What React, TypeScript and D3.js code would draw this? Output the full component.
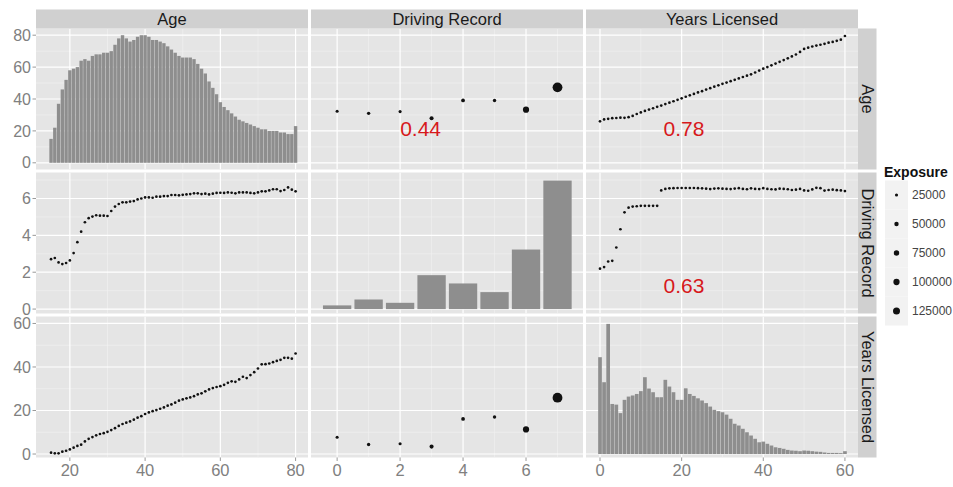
import React from 'react';
import * as d3 from 'd3';

// variable names (strip labels)
const vars = ['Age', 'Driving Record', 'Years Licensed'];

// x categories of each column
const ages = d3.range(15, 81);
const records = [0, 1, 2, 3, 4, 5, 6, 7];
const years = d3.range(0, 61);

// Age column
const ageCounts = [15, 22, 37, 46, 52, 58, 59, 60, 64, 65, 64, 67, 68, 68, 69, 69, 70, 74, 78, 80, 78, 76, 77, 79, 80, 80,
  79, 77, 77, 76, 75, 73, 71, 69, 67, 66, 66, 66, 65, 62, 59, 56, 51, 47, 43, 38, 35, 33, 31, 29, 27, 26, 25, 24, 23, 22,
  21, 21, 20, 20, 20, 19, 19, 18, 18, 23];
const ageDriving = [2.71, 2.77, 2.53, 2.44, 2.5, 2.64, 3.04, 3.63, 4.2, 4.71, 4.93, 5.02, 5.09, 5.07, 5.07, 5.05, 5.32, 5.56,
  5.7, 5.79, 5.79, 5.83, 5.86, 5.95, 6.0, 6.06, 6.06, 6.04, 6.1, 6.1, 6.13, 6.13, 6.19, 6.19, 6.17, 6.2, 6.22, 6.24, 6.28,
  6.28, 6.24, 6.26, 6.22, 6.26, 6.3, 6.31, 6.3, 6.33, 6.31, 6.28, 6.33, 6.33, 6.33, 6.3, 6.28, 6.33, 6.39, 6.39, 6.44, 6.5,
  6.5, 6.4, 6.46, 6.6, 6.48, 6.39];
const ageYears = [0.6, 0.3, 0.3, 1.1, 1.5, 2.1, 2.9, 3.7, 4.3, 5.8, 7.0, 7.8, 8.6, 9.2, 9.6, 10.2, 11.0, 11.9, 12.9, 13.8,
  14.4, 15.0, 15.8, 16.7, 17.4, 18.4, 19.1, 19.7, 20.2, 20.8, 21.4, 22.2, 22.8, 23.6, 24.5, 25.1, 25.6, 26.0, 26.6, 27.4,
  27.9, 28.8, 29.7, 30.3, 30.8, 31.2, 31.8, 32.7, 33.4, 33.2, 34.3, 35.5, 34.9, 36.3, 37.6, 39.3, 41.2, 41.3, 41.6, 42.2,
  42.8, 43.3, 44.2, 44.2, 43.8, 46.2];

// Driving Record column
const recordCounts = [0.2, 0.52, 0.34, 1.84, 1.39, 0.92, 3.23, 6.97];
const recordAge = [32.3, 31.0, 32.1, 27.9, 39.1, 39.1, 33.3, 47.3];
const recordYears = [7.7, 4.4, 4.7, 3.4, 16.1, 17.0, 11.3, 25.9];
const recordExposure = [24000, 29000, 25000, 42000, 36000, 30000, 98000, 245000];

// Years Licensed column
const yearsCounts = [44.5, 33.0, 59.8, 23.0, 22.7, 18.8, 24.9, 26.4, 26.9, 27.6, 28.9, 35.3, 30.1, 28.4, 26.1, 26.1, 34.1,
  31.0, 28.4, 24.9, 24.9, 30.2, 27.6, 26.7, 25.6, 24.6, 23.4, 21.8, 20.3, 19.7, 19.2, 18.1, 16.2, 13.9, 13.1, 11.6, 10.0,
  8.5, 7.0, 5.4, 5.7, 4.7, 3.9, 3.1, 2.8, 2.4, 1.9, 1.6, 1.5, 1.3, 1.6, 1.5, 1.3, 1.1, 1.0, 0.7, 0.5, 0.5, 0.5, 0.4, 1.3];
const yearsAge = [26.0, 27.2, 27.6, 28.0, 28.1, 28.3, 28.2, 28.6, 29.4, 30.6, 31.6, 32.5, 33.4, 34.2, 35.1, 35.9, 36.8,
  37.7, 38.6, 39.5, 40.4, 41.4, 42.3, 43.2, 44.1, 44.9, 45.9, 46.8, 47.7, 48.6, 49.5, 50.3, 51.2, 52.0, 52.9, 53.8, 54.6,
  55.5, 56.6, 57.8, 59.0, 60.0, 61.1, 62.2, 63.3, 64.4, 65.5, 66.7, 67.9, 69.5, 71.4, 72.2, 72.9, 73.5, 74.0, 74.6, 75.3,
  75.8, 76.5, 77.2, 79.5];
const yearsDriving = [2.19, 2.28, 2.58, 2.62, 3.34, 4.33, 5.25, 5.5, 5.56, 5.58, 5.6, 5.6, 5.6, 5.6, 5.6, 6.44, 6.52, 6.55,
  6.56, 6.57, 6.57, 6.57, 6.57, 6.57, 6.56, 6.55, 6.53, 6.51, 6.54, 6.55, 6.53, 6.52, 6.51, 6.54, 6.56, 6.52, 6.5, 6.55,
  6.52, 6.51, 6.56, 6.52, 6.5, 6.49, 6.53, 6.52, 6.5, 6.46, 6.48, 6.52, 6.44, 6.42, 6.49, 6.58, 6.56, 6.43, 6.46, 6.48,
  6.45, 6.44, 6.4];

const correlations = [
  { row: 0, col: 1, r: 0.44, fx: 0.403, fy: 0.76 },
  { row: 0, col: 2, r: 0.78, fx: 0.36, fy: 0.76 },
  { row: 1, col: 2, r: 0.63, fx: 0.36, fy: 0.856 },
];

const legendBreaks = [25000, 50000, 75000, 100000, 125000];

// ticks
const colTicks = [[20, 40, 60, 80], [0, 2, 4, 6], [0, 20, 40, 60]];
const rowTicks = [[0, 20, 40, 60, 80], [0, 2, 4, 6], [0, 20, 40, 60]];

// layout
const W = 953, H = 487;
const colLeft = [36, 311, 586];
const panelW = 272;
const rowTop = [28.5, 172.5, 316.5];
const panelH = 141;
const colDomains = [[11.0, 83.3], [-0.83, 7.81], [-3.43, 63.2]];
const rowDomains = [[-4.2, 84.2], [-0.24, 7.41], [-1.6, 63.2]];

const font = "'Liberation Sans', Arial, Helvetica, sans-serif";
const panelBg = '#E5E5E5';
const stripBg = '#D0D0D0';
const barFill = '#8E8E8E';

const colValues = [ages, records, years];
const cells = [
  [{ type: 'bar', y: ageCounts }, { type: 'pt', y: recordAge, sized: true }, { type: 'pt', y: yearsAge }],
  [{ type: 'pt', y: ageDriving }, { type: 'bar', y: recordCounts }, { type: 'pt', y: yearsDriving }],
  [{ type: 'pt', y: ageYears }, { type: 'pt', y: recordYears, sized: true }, { type: 'bar', y: yearsCounts }],
];

const minorOf = (ticks: number[], dom: number[]) => {
  const step = ticks[1] - ticks[0];
  const out: number[] = [];
  for (let v = ticks[0] - step / 2; v <= dom[1]; v += step) if (v >= dom[0]) out.push(v);
  return out;
};

const App = () => {
  const xScales = colDomains.map((d, i) =>
    d3.scaleLinear().domain(d).range([colLeft[i], colLeft[i] + panelW]));
  const yScales = rowDomains.map((d, i) =>
    d3.scaleLinear().domain(d).range([rowTop[i] + panelH, rowTop[i]]));
  const rScale = d3.scaleSqrt().domain([0, 125000]).range([0, 3.5]);

  return (
    <svg width={W} height={H} style={{ position: 'absolute', left: 0, top: 0, background: '#fff' }}
      fontFamily={font}>
      <defs>
        {cells.map((row, ri) => row.map((_, ci) => (
          <clipPath id={`clip-${ri}-${ci}`} key={`c${ri}${ci}`}>
            <rect x={colLeft[ci]} y={rowTop[ri]} width={panelW} height={panelH} />
          </clipPath>
        )))}
      </defs>

      {cells.map((row, ri) => row.map((cell, ci) => {
        const x = xScales[ci];
        const y = yScales[ri];
        const xs = colValues[ci];
        return (
          <g key={`p${ri}${ci}`}>
            <rect x={colLeft[ci]} y={rowTop[ri]} width={panelW} height={panelH} fill={panelBg} />
            <g clipPath={`url(#clip-${ri}-${ci})`}>
              {minorOf(colTicks[ci], colDomains[ci]).map(v => (
                <line key={`vx${v}`} x1={x(v)} x2={x(v)} y1={rowTop[ri]} y2={rowTop[ri] + panelH}
                  stroke="#F2F2F2" strokeWidth={0.6} />
              ))}
              {minorOf(rowTicks[ri], rowDomains[ri]).map(v => (
                <line key={`vy${v}`} y1={y(v)} y2={y(v)} x1={colLeft[ci]} x2={colLeft[ci] + panelW}
                  stroke="#F2F2F2" strokeWidth={0.6} />
              ))}
              {colTicks[ci].map(v => (
                <line key={`mx${v}`} x1={x(v)} x2={x(v)} y1={rowTop[ri]} y2={rowTop[ri] + panelH}
                  stroke="#fff" strokeWidth={1.2} />
              ))}
              {rowTicks[ri].map(v => (
                <line key={`my${v}`} y1={y(v)} y2={y(v)} x1={colLeft[ci]} x2={colLeft[ci] + panelW}
                  stroke="#fff" strokeWidth={1.2} />
              ))}
              {cell.type === 'bar' && cell.y.map((v, i) => (
                <rect key={`b${i}`} x={x(xs[i] - 0.45)} width={x(xs[i] + 0.45) - x(xs[i] - 0.45)}
                  y={y(v)} height={y(0) - y(v)} fill={barFill} />
              ))}
              {cell.type === 'pt' && cell.y.map((v, i) => (
                <circle key={`d${i}`} cx={x(xs[i])} cy={y(v)}
                  r={cell.sized ? rScale(recordExposure[i]) : 1.35} fill="#111" />
              ))}
            </g>
          </g>
        );
      }))}

      {correlations.map(c => (
        <text key={`r${c.row}${c.col}`} x={colLeft[c.col] + c.fx * panelW} y={rowTop[c.row] + c.fy * panelH}
          textAnchor="middle" fontSize={21} fill="#D7191C">{c.r.toFixed(2)}</text>
      ))}

      {/* top strips */}
      {vars.map((v, ci) => (
        <g key={`ts${ci}`}>
          <rect x={colLeft[ci]} y={9.5} width={panelW} height={19} fill={stripBg} />
          <text x={colLeft[ci] + panelW / 2} y={19} dy="0.36em" textAnchor="middle" fontSize={16.5}
            fill="#1A1A1A">{v}</text>
        </g>
      ))}
      {/* right strips */}
      {vars.map((v, ri) => (
        <g key={`rs${ri}`}>
          <rect x={858} y={rowTop[ri]} width={18.5} height={panelH} fill={stripBg} />
          <text transform={`translate(867.5,${rowTop[ri] + panelH / 2}) rotate(90)`} dy="0.36em"
            textAnchor="middle" fontSize={16.5} fill="#1A1A1A">{v}</text>
        </g>
      ))}

      {/* left axes */}
      {rowTicks.map((ticks, ri) => ticks.map(t => (
        <g key={`ly${ri}${t}`}>
          <line x1={32.5} x2={36} y1={yScales[ri](t)} y2={yScales[ri](t)} stroke="#999" />
          <text x={31} y={yScales[ri](t)} dy="0.35em" textAnchor="end" fontSize={16} fill="#808080">{t}</text>
        </g>
      )))}
      {/* bottom axes */}
      {colTicks.map((ticks, ci) => ticks.map(t => (
        <g key={`bx${ci}${t}`}>
          <line x1={xScales[ci](t)} x2={xScales[ci](t)} y1={457.5} y2={461} stroke="#999" />
          <text x={xScales[ci](t)} y={470.5} dy="0.36em" textAnchor="middle" fontSize={16.5}
            fill="#808080">{t}</text>
        </g>
      )))}

      {/* legend */}
      <text x={884} y={177} fontSize={14} fontWeight="bold" fill="#111">Exposure</text>
      {legendBreaks.map((b, i) => {
        const cy = 195 + i * 29;
        return (
          <g key={`lg${b}`}>
            <rect x={885} y={cy - 14.5} width={23} height={29} fill="#F2F2F2" />
            <circle cx={896.5} cy={cy} r={rScale(b)} fill="#111" />
            <text x={912} y={cy} dy="0.36em" fontSize={12} fill="#444">{b}</text>
          </g>
        );
      })}
    </svg>
  );
};

export default App;
